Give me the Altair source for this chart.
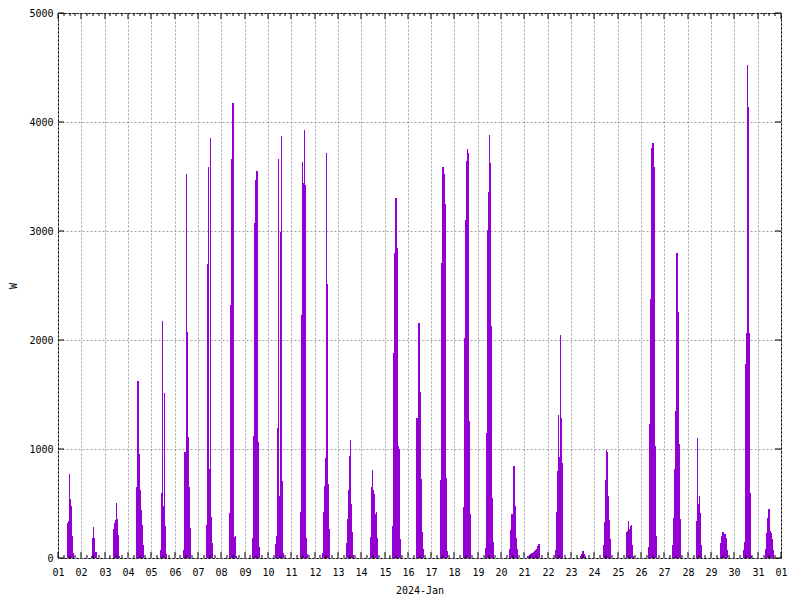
import altair as alt
import pandas as pd

# ---- data (W, roughly hourly columns per day) ----
days = list(range(1, 32))
start_hours = [9.3, 10.0, 8.6, 8.6, 8.6, 8.3, 8.2, 8.2, 7.9, 7.5, 8.7, 7.9, 8.6, 8.9, 8.2, 7.9,
               8.6, 8.6, 7.5, 8.6, 2.4, 7.5, 9.6, 8.6, 8.2, 7.5, 8.2, 8.2, 9.6, 8.6, 7.9]
hourly_watts = [
    [325, 335, 770, 540, 480, 200, 50],                      # 01
    [15, 180, 285, 185, 55, 55],                             # 02
    [265, 325, 345, 505, 355, 210, 15],                      # 03
    [650, 1620, 950, 620, 440, 300, 120],                    # 04
    [75, 600, 2170, 480, 1510, 295, 40],                     # 05
    [75, 975, 975, 3525, 2075, 1110, 655, 275],              # 06
    [300, 2700, 3590, 815, 3855, 380, 140],                  # 07
    [410, 2325, 3665, 4170, 710, 190, 200, 15],              # 08
    [185, 1115, 3075, 3470, 3555, 3450, 1060, 100],          # 09
    [130, 200, 1190, 3665, 570, 2990, 3870, 710, 45],        # 10
    [420, 2225, 3635, 3440, 3930, 3420, 180, 40],            # 11
    [45, 420, 665, 920, 3715, 2510, 680, 270],               # 12
    [140, 360, 620, 940, 1080, 500, 240, 25],                # 13
    [195, 655, 810, 620, 585, 405, 420, 185],                # 14
    [295, 1885, 2800, 3300, 2840, 1025, 1000, 170],          # 15
    [85, 1280, 780, 2160, 1520, 725, 240, 85],               # 16
    [225, 720, 2710, 3590, 3525, 3245, 735, 60],             # 17
    [465, 2020, 3105, 3645, 3755, 3715, 1255, 400],          # 18
    [95, 1145, 3010, 3360, 3885, 3620, 2130, 555, 150],      # 19
    [85, 260, 400, 305, 840, 480, 185, 85],                  # 20
    [15, 20, 25, 40, 45, 50, 55, 60, 75, 80, 92, 107, 131],  # 21
    [75, 420, 800, 1315, 925, 2050, 1280, 875],              # 22
    [15, 40, 60, 40, 20],                                    # 23
    [115, 330, 715, 995, 970, 570, 345, 175],                # 24
    [240, 250, 340, 270, 290, 305, 120, 15],                 # 25
    [100, 1230, 2380, 3760, 3810, 3585, 1025, 200],          # 26
    [120, 370, 820, 1350, 2800, 2260, 1050, 360],            # 27
    [340, 1100, 500, 570, 415, 120],                         # 28
    [135, 200, 240, 210, 220, 185, 75],                      # 29
    [75, 150, 1780, 2060, 4525, 4140, 2060, 600, 20],        # 30
    [85, 225, 370, 445, 245, 230, 170, 75],                  # 31
]

day_ticks = list(range(0, 32))            # day boundaries (01 .. 01)
minor_ticks = [d + q for d in range(31) for q in (0.25, 0.5, 0.75)]
y_ticks = [0, 1000, 2000, 3000, 4000, 5000]

rows = []
for d, sh, vals in zip(days, start_hours, hourly_watts):
    for i, v in enumerate(vals):
        t0 = d - 1 + (sh + i) / 24.0
        rows.append({"t0": t0, "t1": t0 + 1.4 / 24.0, "w": v})
bars_df = pd.DataFrame(rows)

W, H = 723, 545
FONT = "DejaVu Sans Mono"
PURPLE = "#9400d3"

x_scale = alt.Scale(domain=[0, 31], nice=False, zero=False, round=True)
y_scale = alt.Scale(domain=[0, 5000], nice=False, round=True)

x_axis = alt.Axis(
    values=day_ticks,
    labelExpr="datum.value >= 31 ? '01' : (datum.value < 9 ? '0' : '') + (datum.value + 1)",
    grid=True, gridDash=[2, 2], gridColor="#a0a0a0", gridWidth=1,
    ticks=False, tickSize=0, domain=False,
    labelFont=FONT, labelFontSize=10, labelColor="black", labelPadding=9,
    labelOverlap=False, labelFlush=False, labelBound=False,
    title="2024-Jan", titleFont=FONT, titleFontSize=10, titleFontWeight="normal",
    titleColor="black", titlePadding=8,
)
y_axis = alt.Axis(
    values=y_ticks, format="d",
    grid=True, gridDash=[2, 2], gridColor="#a0a0a0", gridWidth=1,
    ticks=False, tickSize=0, domain=False,
    labelFont=FONT, labelFontSize=10, labelColor="black", labelPadding=5,
    labelOverlap=False,
    title="W", titleFont=FONT, titleFontSize=10, titleFontWeight="normal",
    titleColor="black", titlePadding=10,
)

bars = alt.Chart(bars_df).mark_rect(color=PURPLE).encode(
    x=alt.X("t0:Q", scale=x_scale, axis=x_axis),
    x2="t1:Q",
    y=alt.Y("w:Q", scale=y_scale, axis=y_axis),
    y2=alt.datum(0),
)

major_df = pd.DataFrame({"t0": day_ticks})
minor_df = pd.DataFrame({"t0": minor_ticks})
ytick_df = pd.DataFrame({"w": y_ticks})

tick_style = dict(color="black", strokeWidth=1)
bottom_major = alt.Chart(major_df).mark_rule(**tick_style).encode(
    x=alt.X("t0:Q", scale=x_scale, axis=x_axis), y=alt.value(H), y2=alt.value(H - 6))
top_major = alt.Chart(major_df).mark_rule(**tick_style).encode(
    x=alt.X("t0:Q", scale=x_scale, axis=x_axis), y=alt.value(0), y2=alt.value(6))
bottom_minor = alt.Chart(minor_df).mark_rule(**tick_style).encode(
    x=alt.X("t0:Q", scale=x_scale, axis=x_axis), y=alt.value(H), y2=alt.value(H - 3))
top_minor = alt.Chart(minor_df).mark_rule(**tick_style).encode(
    x=alt.X("t0:Q", scale=x_scale, axis=x_axis), y=alt.value(0), y2=alt.value(3))
left_ticks = alt.Chart(ytick_df).mark_rule(**tick_style).encode(
    y=alt.Y("w:Q", scale=y_scale, axis=y_axis), x=alt.value(0), x2=alt.value(6))
right_ticks = alt.Chart(ytick_df).mark_rule(**tick_style).encode(
    y=alt.Y("w:Q", scale=y_scale, axis=y_axis), x=alt.value(W), x2=alt.value(W - 6))

chart = alt.layer(
    bars, bottom_major, top_major, bottom_minor, top_minor, left_ticks, right_ticks
).properties(
    width=W, height=H,
    autosize=alt.AutoSizeParams(type="none"),
    padding={"left": 58, "top": 13, "right": 19, "bottom": 42},
    background="white",
).configure_view(
    stroke="black", strokeWidth=1,
).configure_axis(
    labelOverlap=False,
)

chart.save("out.html", embed_options={"renderer": "svg", "actions": False})
